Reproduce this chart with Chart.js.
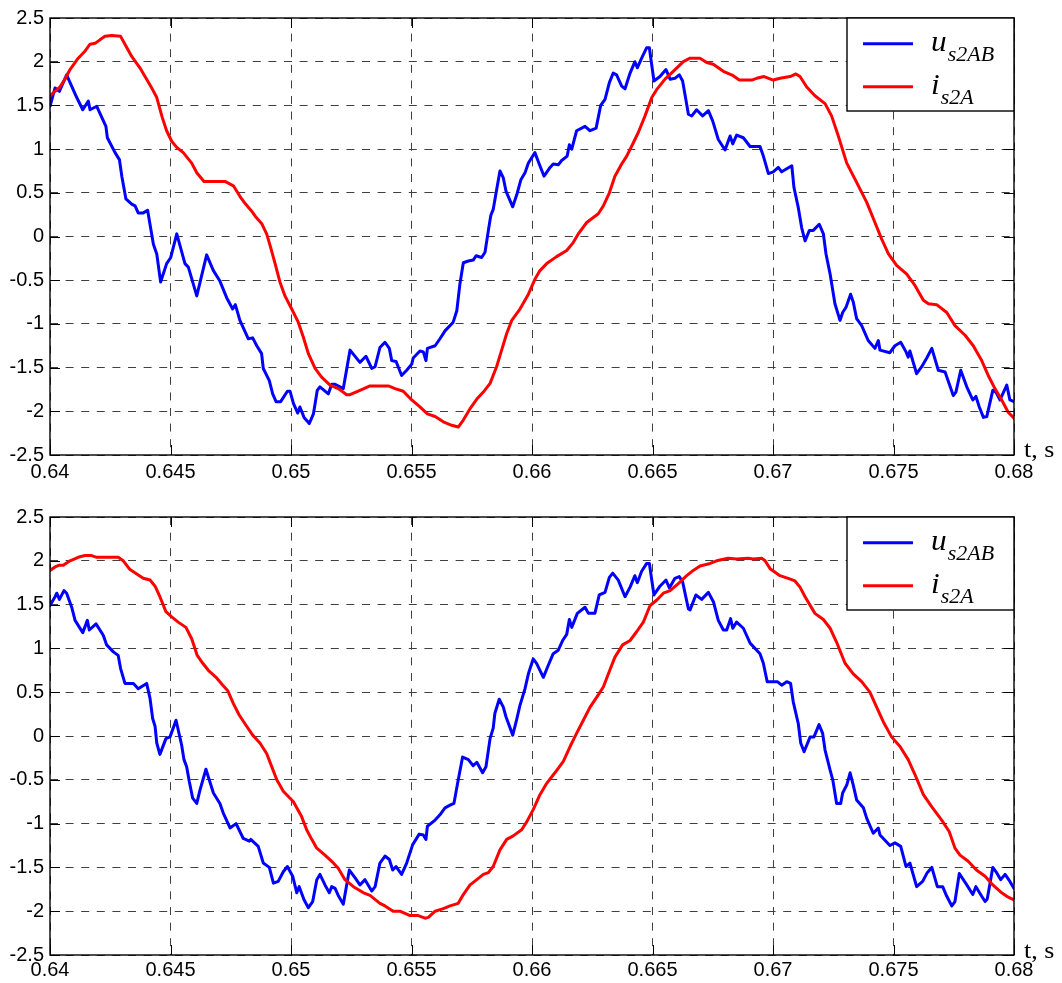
<!DOCTYPE html>
<html>
<head>
<meta charset="utf-8">
<title>u_s2AB and i_s2A</title>
<script src="https://cdn.jsdelivr.net/npm/chart.js@4.4.1/dist/chart.umd.min.js"></script>
<style>
  html, body { margin: 0; padding: 0; background: #ffffff; }
  #wrap { position: relative; width: 1062px; height: 983px; overflow: hidden; }
  canvas { position: absolute; left: 0; }
  #cTop { top: 0; }
  #cBottom { top: 483px; }
</style>
</head>
<body>
<div id="wrap">
  <canvas id="cTop" width="1062" height="490"></canvas>
  <canvas id="cBottom" width="1062" height="500"></canvas>
</div>
<script>
// ---- axis ticks ----
const xTickValues = [0.64, 0.645, 0.65, 0.655, 0.66, 0.665, 0.67, 0.675, 0.68];
const xTickLabels = ['0.64', '0.645', '0.65', '0.655', '0.66', '0.665', '0.67', '0.675', '0.68'];
const yTickValues = [-2.5, -2, -1.5, -1, -0.5, 0, 0.5, 1, 1.5, 2, 2.5];
const yTickLabels = ['-2.5', '-2', '-1.5', '-1', '-0.5', '0', '0.5', '1', '1.5', '2', '2.5'];
const axisTitle = 't, s';

// ---- legend names (symbol + subscript) ----
const seriesMain = ['u', 'i'];
const seriesSub = ['s2AB', 's2A'];

// ---- upper panel: voltage u_s2AB ----
const tTopU = [0.64000,0.64021,0.64039,0.64069,0.64111,0.64136,0.64159,0.64166,0.64194,0.64232,
  0.64238,0.64270,0.64288,0.64298,0.64315,0.64339,0.64353,0.64366,0.64387,0.64405,
  0.64429,0.64443,0.64459,0.64484,0.64501,0.64526,0.64560,0.64574,0.64609,0.64650,
  0.64678,0.64705,0.64733,0.64758,0.64769,0.64788,0.64823,0.64841,0.64858,0.64878,
  0.64885,0.64910,0.64924,0.64938,0.64957,0.64985,0.64996,0.65010,0.65028,0.65037,
  0.65054,0.65076,0.65093,0.65109,0.65120,0.65155,0.65169,0.65183,0.65217,0.65245,
  0.65286,0.65311,0.65335,0.65349,0.65369,0.65390,0.65408,0.65418,0.65436,0.65459,
  0.65480,0.65501,0.65507,0.65535,0.65549,0.65560,0.65566,0.65598,0.65618,0.65639,
  0.65673,0.65688,0.65701,0.65715,0.65736,0.65756,0.65768,0.65791,0.65805,0.65819,
  0.65829,0.65839,0.65851,0.65867,0.65881,0.65892,0.65920,0.65937,0.65954,0.65971,
  0.65985,0.66012,0.66030,0.66050,0.66075,0.66088,0.66109,0.66123,0.66146,0.66155,
  0.66165,0.66185,0.66220,0.66241,0.66266,0.66285,0.66303,0.66321,0.66337,0.66351,
  0.66372,0.66386,0.66407,0.66427,0.66437,0.66455,0.66476,0.66487,0.66506,0.66531,
  0.66556,0.66573,0.66593,0.66611,0.66625,0.66649,0.66663,0.66683,0.66708,0.66732,
  0.66750,0.66773,0.66801,0.66822,0.66833,0.66849,0.66877,0.66905,0.66946,0.66960,
  0.66981,0.67001,0.67022,0.67036,0.67078,0.67087,0.67105,0.67119,0.67133,0.67151,
  0.67167,0.67192,0.67209,0.67220,0.67237,0.67257,0.67278,0.67289,0.67303,0.67322,
  0.67333,0.67347,0.67368,0.67395,0.67423,0.67437,0.67444,0.67485,0.67506,0.67530,
  0.67552,0.67561,0.67568,0.67596,0.67617,0.67638,0.67659,0.67686,0.67714,0.67748,
  0.67759,0.67779,0.67804,0.67829,0.67842,0.67856,0.67873,0.67887,0.67912,0.67925,
  0.67942,0.67970,0.67983,0.68000];
const uTop = [1.49,1.70,1.66,1.85,1.59,1.45,1.55,1.45,1.49,1.26,
  1.13,0.96,0.88,0.69,0.43,0.37,0.35,0.27,0.27,0.30,
  -0.09,-0.20,-0.52,-0.31,-0.24,0.03,-0.31,-0.35,-0.68,-0.21,
  -0.39,-0.51,-0.70,-0.83,-0.78,-0.96,-1.17,-1.16,-1.25,-1.34,
  -1.51,-1.65,-1.80,-1.89,-1.89,-1.77,-1.77,-1.91,-2.02,-1.95,
  -2.07,-2.14,-2.03,-1.76,-1.72,-1.80,-1.69,-1.69,-1.74,-1.30,
  -1.44,-1.37,-1.51,-1.49,-1.27,-1.21,-1.28,-1.42,-1.43,-1.59,
  -1.53,-1.46,-1.39,-1.31,-1.32,-1.42,-1.28,-1.25,-1.17,-1.08,
  -0.98,-0.85,-0.54,-0.30,-0.28,-0.27,-0.22,-0.24,-0.18,0.07,
  0.24,0.31,0.50,0.75,0.67,0.52,0.34,0.48,0.65,0.73,
  0.84,0.96,0.83,0.69,0.79,0.83,0.82,0.87,0.92,1.05,
  1.00,1.21,1.26,1.21,1.24,1.50,1.57,1.76,1.87,1.85,
  1.72,1.69,1.87,2.00,1.93,2.04,2.16,2.16,1.78,1.83,
  1.91,1.80,1.81,1.85,1.78,1.40,1.38,1.45,1.38,1.44,
  1.32,1.11,0.99,1.15,1.06,1.16,1.13,1.03,1.03,0.92,
  0.72,0.74,0.79,0.74,0.81,0.56,0.33,0.10,-0.05,0.07,
  0.07,0.14,0.03,-0.20,-0.43,-0.77,-0.96,-0.87,-0.81,-0.66,
  -0.75,-0.94,-1.02,-1.19,-1.28,-1.19,-1.30,-1.33,-1.25,-1.21,
  -1.32,-1.38,-1.31,-1.57,-1.49,-1.39,-1.28,-1.53,-1.55,-1.82,
  -1.78,-1.53,-1.72,-1.87,-1.83,-1.95,-2.07,-2.06,-1.76,-1.78,
  -1.87,-1.70,-1.87,-1.89];

// ---- upper panel: current i_s2A ----
const tTopI = [0.64000,0.64021,0.64041,0.64062,0.64083,0.64117,0.64145,0.64166,0.64187,0.64207,
  0.64228,0.64256,0.64293,0.64311,0.64339,0.64373,0.64401,0.64422,0.64443,0.64466,
  0.64484,0.64505,0.64526,0.64553,0.64588,0.64609,0.64639,0.64678,0.64726,0.64761,
  0.64788,0.64809,0.64837,0.64855,0.64878,0.64899,0.64916,0.64934,0.64954,0.64975,
  0.65003,0.65030,0.65051,0.65072,0.65100,0.65127,0.65162,0.65196,0.65231,0.65245,
  0.65286,0.65328,0.65404,0.65432,0.65466,0.65501,0.65535,0.65566,0.65598,0.65632,
  0.65667,0.65694,0.65715,0.65743,0.65771,0.65798,0.65826,0.65853,0.65874,0.65895,
  0.65916,0.65950,0.65985,0.66012,0.66033,0.66061,0.66102,0.66144,0.66171,0.66192,
  0.66227,0.66275,0.66296,0.66321,0.66344,0.66372,0.66393,0.66420,0.66441,0.66469,
  0.66497,0.66517,0.66552,0.66586,0.66628,0.66656,0.66697,0.66725,0.66752,0.66794,
  0.66835,0.66860,0.66912,0.66932,0.66963,0.67001,0.67029,0.67071,0.67095,0.67112,
  0.67140,0.67174,0.67216,0.67243,0.67271,0.67306,0.67347,0.67389,0.67423,0.67451,
  0.67479,0.67513,0.67555,0.67589,0.67624,0.67645,0.67679,0.67721,0.67755,0.67797,
  0.67831,0.67866,0.67893,0.67921,0.67949,0.67976,0.68000];
const iTop = [1.61,1.66,1.71,1.80,1.91,2.04,2.12,2.20,2.21,2.25,
  2.29,2.30,2.29,2.20,2.06,1.93,1.80,1.70,1.59,1.36,
  1.21,1.09,1.02,0.96,0.84,0.73,0.63,0.63,0.63,0.58,
  0.46,0.38,0.29,0.22,0.15,0.03,-0.13,-0.31,-0.52,-0.68,
  -0.83,-0.98,-1.15,-1.34,-1.51,-1.61,-1.70,-1.74,-1.81,-1.81,
  -1.76,-1.71,-1.71,-1.74,-1.77,-1.87,-1.95,-2.03,-2.06,-2.12,
  -2.16,-2.18,-2.10,-1.97,-1.86,-1.78,-1.68,-1.49,-1.30,-1.11,
  -0.96,-0.83,-0.66,-0.49,-0.39,-0.31,-0.23,-0.16,-0.07,0.03,
  0.16,0.26,0.35,0.50,0.69,0.83,0.92,1.07,1.19,1.38,
  1.59,1.68,1.80,1.89,2.00,2.04,2.04,1.99,1.97,1.89,
  1.84,1.79,1.79,1.81,1.83,1.79,1.81,1.83,1.86,1.83,
  1.71,1.61,1.52,1.38,1.15,0.84,0.62,0.39,0.16,-0.03,
  -0.20,-0.33,-0.43,-0.56,-0.73,-0.77,-0.78,-0.87,-1.02,-1.13,
  -1.25,-1.42,-1.59,-1.74,-1.87,-2.01,-2.08];

// ---- lower panel: voltage u_s2AB ----
const tBotU = [0.64000,0.64021,0.64028,0.64039,0.64058,0.64069,0.64090,0.64104,0.64136,0.64155,
  0.64163,0.64191,0.64221,0.64235,0.64263,0.64283,0.64293,0.64311,0.64346,0.64366,
  0.64401,0.64415,0.64426,0.64436,0.64443,0.64456,0.64481,0.64498,0.64523,0.64546,
  0.64556,0.64567,0.64578,0.64592,0.64609,0.64622,0.64647,0.64678,0.64705,0.64719,
  0.64747,0.64772,0.64802,0.64827,0.64833,0.64864,0.64885,0.64910,0.64927,0.64947,
  0.64968,0.64985,0.65007,0.65024,0.65034,0.65054,0.65072,0.65090,0.65107,0.65120,
  0.65141,0.65159,0.65169,0.65183,0.65196,0.65217,0.65242,0.65266,0.65286,0.65307,
  0.65335,0.65349,0.65369,0.65390,0.65408,0.65422,0.65436,0.65459,0.65480,0.65505,
  0.65532,0.65549,0.65560,0.65566,0.65598,0.65618,0.65639,0.65660,0.65676,0.65694,
  0.65712,0.65736,0.65756,0.65771,0.65795,0.65809,0.65826,0.65839,0.65846,0.65864,
  0.65881,0.65892,0.65920,0.65934,0.65950,0.65971,0.65985,0.66005,0.66019,0.66047,
  0.66068,0.66088,0.66109,0.66127,0.66144,0.66155,0.66165,0.66188,0.66220,0.66234,
  0.66261,0.66279,0.66303,0.66321,0.66335,0.66358,0.66386,0.66407,0.66427,0.66437,
  0.66455,0.66476,0.66487,0.66506,0.66531,0.66556,0.66570,0.66593,0.66611,0.66625,
  0.66649,0.66656,0.66680,0.66704,0.66732,0.66753,0.66773,0.66794,0.66808,0.66824,
  0.66833,0.66849,0.66877,0.66905,0.66946,0.66960,0.66976,0.67018,0.67036,0.67057,
  0.67073,0.67084,0.67105,0.67115,0.67129,0.67154,0.67170,0.67191,0.67206,0.67216,
  0.67237,0.67248,0.67264,0.67281,0.67289,0.67306,0.67320,0.67333,0.67347,0.67375,
  0.67389,0.67416,0.67423,0.67437,0.67444,0.67485,0.67506,0.67530,0.67552,0.67568,
  0.67596,0.67621,0.67640,0.67659,0.67682,0.67704,0.67721,0.67742,0.67755,0.67773,
  0.67804,0.67829,0.67842,0.67866,0.67880,0.67889,0.67912,0.67928,0.67945,0.67963,
  0.67983,0.68000];
const uBot = [1.49,1.59,1.63,1.56,1.66,1.63,1.47,1.32,1.18,1.32,
  1.21,1.28,1.15,1.04,0.96,0.92,0.77,0.60,0.60,0.54,
  0.60,0.43,0.20,0.11,-0.08,-0.21,-0.03,-0.01,0.18,-0.10,
  -0.27,-0.35,-0.52,-0.71,-0.77,-0.62,-0.38,-0.65,-0.77,-0.88,
  -1.05,-1.00,-1.17,-1.20,-1.18,-1.26,-1.45,-1.50,-1.68,-1.66,
  -1.55,-1.49,-1.60,-1.79,-1.72,-1.87,-1.96,-1.89,-1.64,-1.58,
  -1.70,-1.79,-1.72,-1.74,-1.82,-1.92,-1.53,-1.62,-1.70,-1.64,
  -1.77,-1.72,-1.45,-1.37,-1.41,-1.53,-1.49,-1.58,-1.45,-1.24,
  -1.12,-1.13,-1.18,-1.03,-0.96,-0.90,-0.82,-0.79,-0.77,-0.50,
  -0.24,-0.27,-0.34,-0.30,-0.42,-0.35,-0.03,0.09,0.26,0.42,
  0.33,0.22,0.01,0.16,0.35,0.54,0.71,0.88,0.83,0.67,
  0.81,0.94,0.98,1.09,1.16,1.33,1.24,1.40,1.47,1.40,
  1.40,1.61,1.64,1.81,1.86,1.78,1.59,1.70,1.83,1.75,
  1.88,1.97,1.97,1.61,1.71,1.78,1.69,1.80,1.82,1.76,
  1.45,1.44,1.61,1.56,1.64,1.53,1.32,1.21,1.21,1.34,
  1.23,1.30,1.23,1.06,0.94,0.83,0.62,0.62,0.58,0.62,
  0.60,0.39,0.14,-0.08,-0.18,-0.01,-0.01,0.13,0.03,-0.16,
  -0.39,-0.50,-0.77,-0.77,-0.65,-0.56,-0.42,-0.56,-0.73,-0.82,
  -0.94,-1.11,-1.09,-1.05,-1.13,-1.25,-1.22,-1.26,-1.49,-1.45,
  -1.72,-1.66,-1.56,-1.50,-1.72,-1.72,-1.83,-1.94,-1.89,-1.57,
  -1.70,-1.81,-1.72,-1.83,-1.89,-1.86,-1.50,-1.56,-1.64,-1.58,
  -1.66,-1.74];

// ---- lower panel: current i_s2A ----
const tBotI = [0.64000,0.64021,0.64039,0.64055,0.64083,0.64117,0.64145,0.64173,0.64194,0.64283,
  0.64304,0.64332,0.64360,0.64387,0.64415,0.64436,0.64456,0.64481,0.64505,0.64532,
  0.64564,0.64588,0.64611,0.64634,0.64657,0.64689,0.64717,0.64737,0.64761,0.64785,
  0.64809,0.64841,0.64871,0.64899,0.64920,0.64941,0.64968,0.64989,0.65010,0.65044,
  0.65065,0.65086,0.65107,0.65141,0.65169,0.65196,0.65224,0.65259,0.65301,0.65328,
  0.65369,0.65390,0.65424,0.65452,0.65494,0.65528,0.65556,0.65570,0.65598,0.65632,
  0.65660,0.65694,0.65715,0.65743,0.65771,0.65798,0.65819,0.65839,0.65867,0.65895,
  0.65922,0.65957,0.65978,0.66005,0.66033,0.66061,0.66095,0.66130,0.66158,0.66185,
  0.66213,0.66241,0.66275,0.66296,0.66317,0.66344,0.66376,0.66407,0.66434,0.66462,
  0.66490,0.66517,0.66545,0.66573,0.66607,0.66642,0.66669,0.66697,0.66739,0.66766,
  0.66814,0.66849,0.66897,0.66918,0.66953,0.66967,0.66988,0.67029,0.67063,0.67091,
  0.67112,0.67133,0.67174,0.67209,0.67237,0.67264,0.67299,0.67333,0.67368,0.67402,
  0.67430,0.67458,0.67492,0.67527,0.67561,0.67589,0.67624,0.67659,0.67700,0.67731,
  0.67755,0.67776,0.67810,0.67844,0.67880,0.67912,0.67949,0.67976,0.68000];
const iBot = [1.89,1.93,1.95,1.95,2.00,2.04,2.06,2.06,2.04,2.04,
  2.00,1.90,1.85,1.80,1.78,1.71,1.59,1.42,1.36,1.30,
  1.24,1.11,0.92,0.83,0.75,0.67,0.58,0.52,0.37,0.24,
  0.14,0.01,-0.08,-0.20,-0.35,-0.50,-0.63,-0.69,-0.75,-0.92,
  -1.07,-1.18,-1.28,-1.36,-1.43,-1.51,-1.64,-1.72,-1.79,-1.82,
  -1.91,-1.94,-2.00,-2.00,-2.05,-2.05,-2.08,-2.07,-2.00,-1.97,
  -1.94,-1.91,-1.81,-1.70,-1.64,-1.58,-1.56,-1.49,-1.30,-1.18,
  -1.14,-1.07,-0.98,-0.84,-0.67,-0.54,-0.42,-0.29,-0.12,0.03,
  0.18,0.33,0.47,0.56,0.71,0.90,1.04,1.09,1.19,1.30,
  1.49,1.55,1.63,1.66,1.74,1.83,1.89,1.94,1.97,2.00,
  2.03,2.02,2.03,2.02,2.03,2.00,1.91,1.83,1.80,1.77,
  1.70,1.59,1.40,1.33,1.23,1.07,0.83,0.71,0.62,0.50,
  0.33,0.16,-0.01,-0.12,-0.27,-0.44,-0.67,-0.81,-0.96,-1.09,
  -1.28,-1.36,-1.43,-1.53,-1.60,-1.70,-1.79,-1.84,-1.87];

// ---- drawing ----
const BLUE = '#0000ff';
const RED = '#ff0000';
const SANS = '"Liberation Sans", Arial, Helvetica, sans-serif';
const SERIF = '"Liberation Serif", "Times New Roman", Times, serif';

const pts = (t, v) => t.map((x, k) => ({ x: x, y: v[k] }));

// draws a string slightly widened, as the axis texts of the figure are
function wideText(ctx, text, x, y, sx) {
  ctx.save();
  ctx.translate(x, y);
  ctx.scale(sx, 1);
  ctx.fillText(text, 0, 0);
  const w = ctx.measureText(text).width * sx;
  ctx.restore();
  return w;
}

// box frame, inward tick marks, legend and the time-axis caption
const framePlugin = {
  id: 'frameLegend',
  afterDraw(chart, args, opts) {
    const { ctx, chartArea: a, scales } = chart;
    const xs = scales.x, ys = scales.y;
    ctx.save();
    ctx.setLineDash([]);

    // inward ticks on all four sides
    const L = 10;
    ctx.strokeStyle = '#000';
    ctx.lineWidth = 1;
    ctx.beginPath();
    xs.ticks.forEach(t => {
      const px = Math.round(xs.getPixelForValue(t.value)) + 0.5;
      ctx.moveTo(px, a.bottom); ctx.lineTo(px, a.bottom - L);
      ctx.moveTo(px, a.top); ctx.lineTo(px, a.top + L);
    });
    ys.ticks.forEach(t => {
      const py = Math.round(ys.getPixelForValue(t.value)) + 0.5;
      ctx.moveTo(a.left, py); ctx.lineTo(a.left + L, py);
      ctx.moveTo(a.right, py); ctx.lineTo(a.right - L, py);
    });
    ctx.stroke();

    // axes box
    ctx.lineWidth = 1.4;
    ctx.strokeRect(a.left, a.top, a.right - a.left, a.bottom - a.top);

    // legend
    const bw = 167, bh = 93;
    const bx = a.right - bw, by = a.top;
    ctx.fillStyle = '#fff';
    ctx.fillRect(bx, by, bw, bh);
    ctx.lineWidth = 1.4;
    ctx.strokeStyle = '#000';
    ctx.strokeRect(bx, by, bw, bh);
    const rows = [25.7, 68.7];
    chart.data.datasets.forEach((ds, k) => {
      const yy = by + rows[k];
      ctx.strokeStyle = ds.borderColor;
      ctx.lineWidth = 3;
      ctx.beginPath();
      ctx.moveTo(bx + 16, yy);
      ctx.lineTo(bx + 66, yy);
      ctx.stroke();
      ctx.fillStyle = '#000';
      ctx.textBaseline = 'alphabetic';
      ctx.textAlign = 'left';
      ctx.font = 'italic 29px ' + SERIF;
      const w = wideText(ctx, seriesMain[k], bx + 84, yy + 7, 1.08);
      ctx.font = 'italic 20px ' + SERIF;
      wideText(ctx, seriesSub[k], bx + 84 + w + 1, yy + 17, 1.1);
    });

    // time-axis caption to the right of the axis end
    ctx.fillStyle = '#000';
    ctx.font = '24px ' + SERIF;
    ctx.textAlign = 'left';
    ctx.textBaseline = 'alphabetic';
    wideText(ctx, axisTitle, a.right + 10, a.bottom + opts.captionDy, 1.08);
    ctx.restore();
  }
};

function makeChart(id, uT, uV, iT, iV, padTop, axisH, labelPad, captionDy) {
  return new Chart(document.getElementById(id), {
    type: 'line',
    data: {
      datasets: [
        { label: 'u s2AB', data: pts(uT, uV), borderColor: BLUE, borderWidth: 3, order: 1 },
        { label: 'i s2A', data: pts(iT, iV), borderColor: RED, borderWidth: 3, order: 0 }
      ]
    },
    options: {
      responsive: false,
      animation: false,
      devicePixelRatio: 1,
      layout: { padding: { left: 0, right: 48, top: padTop, bottom: 0 } },
      elements: {
        point: { radius: 0, hoverRadius: 0 },
        line: { tension: 0, borderJoinStyle: 'round', borderCapStyle: 'round', fill: false }
      },
      plugins: {
        legend: { display: false },
        tooltip: { enabled: false },
        frameLegend: { captionDy: captionDy }
      },
      scales: {
        x: {
          type: 'linear',
          min: 0.64,
          max: 0.68,
          afterBuildTicks: s => { s.ticks = xTickValues.map(v => ({ value: v })); },
          afterFit: s => { s.height = axisH; },
          grid: { color: '#404040', lineWidth: 1, drawTicks: false },
          border: { display: false, dash: [8, 7.6] },
          ticks: {
            padding: labelPad,
            autoSkip: false,
            maxRotation: 0,
            color: '#000',
            font: { family: SANS, size: 20 },
            callback: (v, i) => xTickLabels[i]
          }
        },
        y: {
          type: 'linear',
          min: -2.5,
          max: 2.5,
          afterBuildTicks: s => { s.ticks = yTickValues.map(v => ({ value: v })); },
          afterFit: s => { s.width = 50; },
          grid: { color: '#404040', lineWidth: 1, drawTicks: false },
          border: { display: false, dash: [8, 7.6] },
          ticks: {
            padding: 6,
            autoSkip: false,
            color: '#000',
            font: { family: SANS, size: 20 },
            callback: (v, i) => yTickLabels[i]
          }
        }
      }
    },
    plugins: [framePlugin]
  });
}

makeChart('cTop', tTopU, uTop, tTopI, iTop, 17, 35, 5, 2);
makeChart('cBottom', tBotU, uBot, tBotI, iBot, 34, 28, 3.5, 3);
</script>
</body>
</html>
